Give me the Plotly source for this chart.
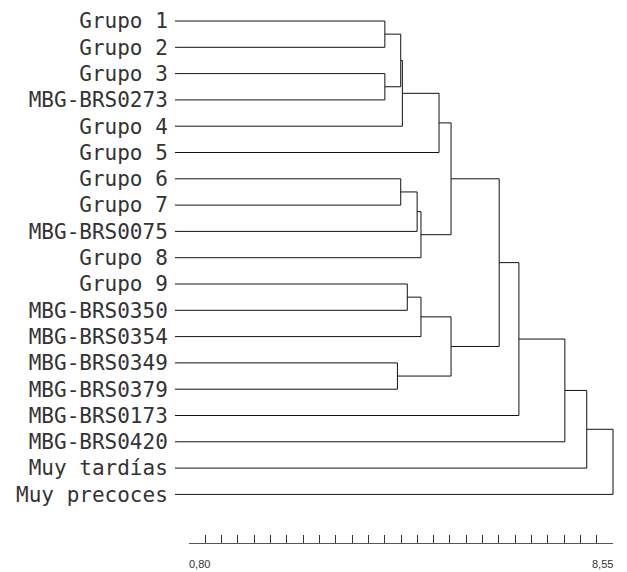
import plotly.graph_objects as go

# ---- data ----
leaf_labels = ["Grupo 1", "Grupo 2", "Grupo 3", "MBG-BRS0273", "Grupo 4", "Grupo 5",
               "Grupo 6", "Grupo 7", "MBG-BRS0075", "Grupo 8", "Grupo 9",
               "MBG-BRS0350", "MBG-BRS0354", "MBG-BRS0349", "MBG-BRS0379",
               "MBG-BRS0173", "MBG-BRS0420", "Muy tardías", "Muy precoces"]
# merges: (child a, child b, distance); new cluster ids continue after the leaves
merge_a = [0, 2, 19, 21, 22, 6, 24, 25, 23, 10, 28, 13, 29, 27, 32, 33, 34, 35]
merge_b = [1, 3, 20, 4, 5, 7, 8, 9, 26, 11, 12, 14, 30, 31, 15, 16, 17, 18]
merge_h = [4.38, 4.38, 4.67, 4.70, 5.37, 4.67, 4.97, 5.04, 5.59,
           4.79, 5.04, 4.61, 5.59, 6.47, 6.83, 7.67, 8.07, 8.55]
leaf_base = 0.544
scale_min, scale_max = 0.80, 8.55
n_intervals = 26
scale_labels = ["0,80", "8,55"]

# ---- build dendrogram segments ----
n = len(leaf_labels)
pos_y = {i: float(i) for i in range(n)}
pos_x = {i: leaf_base for i in range(n)}
xs, ys = [], []
for k, (a, b, h) in enumerate(zip(merge_a, merge_b, merge_h)):
    nid = n + k
    ya, yb = pos_y[a], pos_y[b]
    xs += [pos_x[a], h, h, pos_x[b], None]
    ys += [ya, ya, yb, yb, None]
    pos_y[nid] = (ya + yb) / 2
    pos_x[nid] = h

OFF = 8  # page body margin
W, H = 627 - OFF, 572 - OFF
ML = 175 - OFF
AX0, AX1 = 189 - OFF, 613 - OFF
px_per_unit = (AX1 - AX0) / (scale_max - scale_min)
x0 = scale_min - (AX0 - ML) / px_per_unit
x1 = scale_max + (W - AX1) / px_per_unit
ROW0 = 21 - OFF
row_h = (494.4 - 21) / (n - 1)
y_top = -ROW0 / row_h
y_bot = (H - ROW0) / row_h
AXIS_Y = 543 - OFF
LAB_Y = 564 - OFF

fig = go.Figure()
fig.add_trace(go.Scatter(x=xs, y=ys, mode="lines",
                         line=dict(color="#111111", width=1),
                         hoverinfo="skip", showlegend=False))
fig.add_trace(go.Scatter(x=[scale_min], y=[0], xaxis="x2", yaxis="y2",
                         mode="markers", marker=dict(opacity=0),
                         hoverinfo="skip", showlegend=False))

step = (scale_max - scale_min) / n_intervals
tickvals = [scale_min + step * k for k in range(1, n_intervals + 1)]

fig.update_layout(
    width=W, height=H,
    margin=dict(l=ML, r=0, t=0, b=0),
    paper_bgcolor="white", plot_bgcolor="white",
    showlegend=False,
    xaxis=dict(range=[x0, x1], visible=False, domain=[0, 1]),
    yaxis=dict(range=[y_bot, y_top], tickvals=list(range(n)), ticktext=leaf_labels,
               showgrid=False, zeroline=False, showline=False,
               ticks="outside", ticklen=2, tickcolor="rgba(0,0,0,0)",
               tickfont=dict(family="DejaVu Sans Mono", size=21, color="#333333"),
               domain=[0, 1]),
    xaxis2=dict(range=[scale_min, scale_max], anchor="y2",
                domain=[(AX0 - ML) / (W - ML), (AX1 - ML) / (W - ML)],
                showline=True, linecolor="#555555", linewidth=1,
                ticks="inside", ticklen=8, tickwidth=1, tickcolor="#333333",
                tickvals=tickvals, showticklabels=False,
                showgrid=False, zeroline=False),
    yaxis2=dict(range=[0, 1], domain=[(H - AXIS_Y) / H, (H - AXIS_Y + 23) / H],
                visible=False, anchor="x2"),
)

fig.add_annotation(x=scale_min, xref="x2", y=(H - LAB_Y) / H, yref="paper",
                   text=scale_labels[0], showarrow=False, xanchor="left", yanchor="middle",
                   xshift=-2,
                   font=dict(family="Liberation Sans", size=11, color="#333333"))
fig.add_annotation(x=scale_max, xref="x2", y=(H - LAB_Y) / H, yref="paper",
                   text=scale_labels[1], showarrow=False, xanchor="right", yanchor="middle",
                   xshift=2,
                   font=dict(family="Liberation Sans", size=11, color="#333333"))

fig.write_html("out.html")
